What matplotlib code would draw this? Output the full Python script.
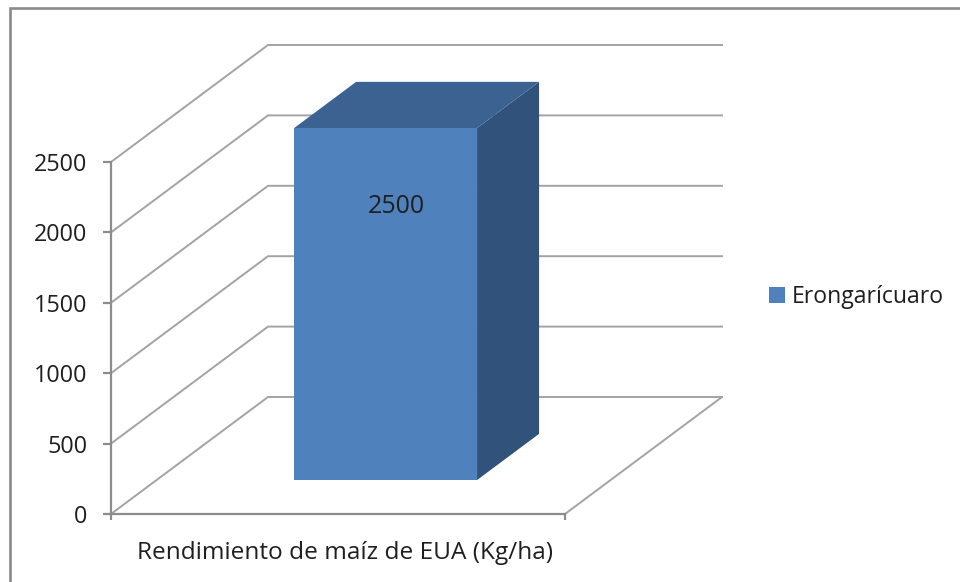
import matplotlib
matplotlib.use("Agg")
import matplotlib.pyplot as plt
from matplotlib.patches import Patch, Polygon
from matplotlib.lines import Line2D

categories = ["Rendimiento de maíz de EUA (Kg/ha)"]
series_name = "Erongarícuaro"
series_values = [2500]
y_ticks = [0, 500, 1000, 1500, 2000, 2500]

W, H = 960, 582
plt.rcParams["font.family"] = ["Open Sans", "DejaVu Sans"]
FS = 16.8
FS_LABEL = 18.0
FS_CAT = 17.6
TXT = "#1f1f1f"
GRID = "#a3a3a3"
AX = "#8c8c8c"

fig = plt.figure(figsize=(W / 100, H / 100), dpi=100, facecolor="white")
L, R, T, B = 111, 565, 162, 514
ax = fig.add_axes([L / W, 1 - B / H, (R - L) / W, (B - T) / H])
ax.set_xlim(0, 1)
ax.set_ylim(0, 2500)
ax.patch.set_visible(False)

# oblique depth projection, in data units
DX = 157 / (R - L)
DY = 117 / (B - T) * 2500


def proj(x, y, d):
    return x + d * DX, y + d * DY


# gridlines: side wall + back wall
for v in y_ticks:
    xs, ys = zip(proj(0, v, 0), proj(0, v, 1), proj(1, v, 1))
    ax.plot(xs, ys, color=GRID, lw=1.4, clip_on=False, zorder=1, solid_joinstyle="miter")
# floor right edge
xs, ys = zip(proj(1, 0, 0), proj(1, 0, 1))
ax.plot(xs, ys, color=GRID, lw=1.4, clip_on=False, zorder=1)

# bar
x0, x1 = 0.303, 0.706
d0, d1 = 0.29, 0.685
for value in series_values:
    front = [proj(x0, 0, d0), proj(x1, 0, d0), proj(x1, value, d0), proj(x0, value, d0)]
    side = [proj(x1, 0, d0), proj(x1, 0, d1), proj(x1, value, d1), proj(x1, value, d0)]
    top = [proj(x0, value, d0), proj(x1, value, d0), proj(x1, value, d1), proj(x0, value, d1)]
    ax.add_patch(Polygon(side, closed=True, fc="#30527b", ec="none", clip_on=False, zorder=3))
    ax.add_patch(Polygon(top, closed=True, fc="#3b6290", ec="none", clip_on=False, zorder=3))
    ax.add_patch(Polygon(front, closed=True, fc="#4f81bd", ec="none", clip_on=False, zorder=4))
    lx, ly = proj((x0 + x1) / 2, value, d0)
    ax.annotate(str(value), (lx, ly), xytext=(7.5, -56.5), textcoords="offset points",
                ha="center", va="center", fontsize=FS_LABEL, color=TXT, zorder=5,
                annotation_clip=False)

# axes
for s in ("top", "right"):
    ax.spines[s].set_visible(False)
for s in ("left", "bottom"):
    ax.spines[s].set_color(AX)
    ax.spines[s].set_linewidth(1.6)
ax.set_yticks(y_ticks)
ax.tick_params(axis="y", length=5.8, width=1.6, color=AX, pad=11, labelsize=FS, labelcolor=TXT)
ax.set_xticks([0, 1], minor=True)
ax.set_xticks([0.515], labels=categories)
ax.tick_params(axis="x", which="minor", length=4, width=1.6, color=AX)
ax.tick_params(axis="x", which="major", length=0, pad=19.5, labelsize=FS_CAT, labelcolor=TXT)

# legend
fig.legend(handles=[Patch(fc="#4f81bd", ec="none", label=series_name)],
           loc="center left", bbox_to_anchor=(769 / W, 1 - 297 / H), frameon=False,
           fontsize=16.6, handlelength=0.7, handleheight=0.7, handletextpad=0.3,
           labelcolor=TXT, borderpad=0, borderaxespad=0)

# chart frame (only top and left edges are in the crop)
fig.add_artist(Line2D([10 / W, 10 / W, 1], [0, 1 - 8 / H, 1 - 8 / H], color="#8a8a8a", lw=1.9,
                      transform=fig.transFigure, solid_joinstyle="miter"))

fig.savefig("out.png", dpi=100, facecolor="white")
